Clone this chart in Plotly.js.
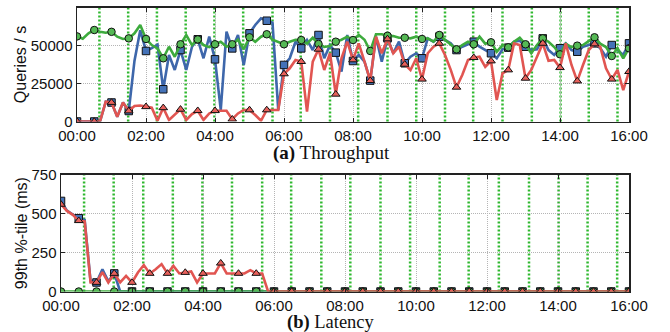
<!DOCTYPE html>
<html><head><meta charset="utf-8">
<script src="https://cdn.plot.ly/plotly-3.0.1.min.js"></script>
<style>html,body{margin:0;padding:0;background:#fff}#chart{width:670px;height:332px}</style>
</head><body><div id="chart"></div>
<script>
// sample times in minutes after 00:00 (every 10 minutes)
const minutes = [0,10,20,30,40,50,60,70,80,90,100,110,120,130,140,150,160,170,180,190,200,210,220,230,240,250,260,270,280,290,300,310,320,330,340,350,360,370,380,390,400,410,420,430,440,450,460,470,480,490,500,510,520,530,540,550,560,570,580,590,600,610,620,630,640,650,660,670,680,690,700,710,720,730,740,750,760,770,780,790,800,810,820,830,840,850,860,870,880,890,900,910,920,930,940,950,960];
const xTickVals = [0,120,240,360,480,600,720,840,960];
const xTickLabels = ["00:00","02:00","04:00","06:00","08:00","10:00","12:00","14:00","16:00"];
const qpsTickVals = [0,25000,50000,75000];
const qpsTickLabels = ["0","25000","50000","75000"];
const latTickVals = [0,250,500,750];
const latTickLabels = ["0","250","500","750"];
// event times (minutes) drawn as green dotted verticals
const eventMinutes = [39,89,139,189,239,289,340,389,440,489,540,590,640,689,740,791,841,890,940];

// Throughput (queries / s)
const qpsGreen = [56000,54500,58000,60200,59100,58400,59000,55800,54300,54700,58000,63500,54300,50300,48100,41600,49200,42600,50800,56900,50300,54000,50300,48900,50800,52500,49200,50800,53800,47500,55400,52500,55800,57400,53800,52500,50800,52500,53800,53600,51200,55100,51000,49000,49600,52500,53800,55800,53600,57000,53800,46400,57400,57400,56400,56200,55100,55100,54700,55800,54300,54700,52500,56900,53800,51200,47500,50300,52500,50800,55800,51200,52100,45900,50300,48800,52500,55100,50800,44900,50300,54700,52500,49000,44200,51200,49000,49900,50300,52900,55400,51200,49000,43100,48300,41600,48200];
const qpsBlue = [0,0,0,0,0,13000,12500,3200,12500,6900,40000,60000,46400,48300,50600,21200,43800,33900,47000,33900,49200,54100,41600,55800,40900,7600,59100,48100,56900,37200,58000,63500,67900,66300,65000,7500,37200,41600,52500,48100,53600,47000,56900,41600,50300,45300,32800,56900,39800,43800,39400,26900,55800,39400,54700,44900,52500,38300,42600,44900,41600,54700,52500,55800,53600,51400,47000,49200,50800,52500,49200,47000,44900,41600,47500,48600,52500,53200,49200,47000,47500,54700,47000,43800,48200,51400,47000,45900,49200,50300,51400,48200,42600,50300,47000,43800,51400];
const qpsRed = [0,0,0,0,0,13000,12500,3200,12500,6900,10200,10500,9700,9100,500,9000,1000,4300,8000,1000,4900,7100,1000,5300,7100,7100,7100,1500,5300,7600,7600,4300,500,7600,7600,7600,31300,35000,40500,39400,6500,39400,47500,33900,44900,17900,41600,52500,40500,51400,39400,26900,55800,44900,54300,44900,49200,37600,33900,41600,27800,44900,49200,51400,43800,34000,22500,30600,40500,42000,42600,36000,39800,14100,31700,33900,51400,50300,28400,33900,42600,51400,40000,40500,35400,51400,37200,26600,37200,47000,51000,49200,35000,27800,33900,20700,32800];

// Latency (99th percentile, ms)
const latGreen = [0,0,0,0,0,0,0,0,0,0,0,0,0,0,0,0,0,0,0,0,0,0,0,0,0,0,0,0,0,0,0,0,0,0,0,0,0,0,0,0,0,0,0,0,0,0,0,0,0,0,0,0,0,0,0,0,0,0,0,0,0,0,0,0,0,0,0,0,0,0,0,0,0,0,0,0,0,0,0,0,0,0,0,0,0,0,0,0,0,0,0,0,0,0,0,0,0];
const latBlue = [582,520,495,471,460,65,58,143,65,116,0,0,0,0,0,0,0,0,0,0,0,0,0,0,0,0,0,0,0,0,0,0,0,0,0,0,0,0,0,0,0,0,0,0,0,0,0,0,0,0,0,0,0,0,0,0,0,0,0,0,0,0,0,0,0,0,0,0,0,0,0,0,0,0,0,0,0,0,0,0,0,0,0,0,0,0,0,0,0,0,0,0,0,0,0,0,0];
const latRed = [560,518,493,455,450,58,58,125,58,116,58,100,58,122,170,116,143,176,116,165,116,122,129,58,116,116,116,182,116,116,116,116,137,116,116,0,0,0,0,0,0,0,0,0,0,0,0,0,0,0,0,0,0,0,0,0,0,0,0,0,0,0,0,0,0,0,0,0,0,0,0,0,0,0,0,0,0,0,0,0,0,0,0,0,0,0,0,0,0,0,0,0,0,0,0,0,0];

const C = {
  green:'#3dab3d', greenFill:'#55b955',
  blue:'#3e67ab', blueFill:'#4472b8',
  red:'#e15551', redFill:'#e8605b',
  event:'#2fb82f', grid:'#b5b5b5', axis:'#222'
};

function series(xa, ya, ys, color, fill, symbol) {
  const mx = [], my = [];
  minutes.forEach((m, i) => { if (m % 30 === 0) { mx.push(m); my.push(ys[i]); } });
  return [
    {x: minutes, y: ys, xaxis: xa, yaxis: ya, mode: 'lines', type: 'scatter',
     line: {color: color, width: 2.6}, hoverinfo: 'skip'},
    {x: mx, y: my, xaxis: xa, yaxis: ya, mode: 'markers', type: 'scatter',
     marker: {symbol: symbol, size: 7.5, color: fill, line: {color: '#111', width: 1}}, hoverinfo: 'skip'}
  ];
}

const traces = [].concat(
  series('x','y', qpsBlue, C.blue, C.blueFill, 'square'),
  series('x','y', qpsGreen, C.green, C.greenFill, 'circle'),
  series('x','y', qpsRed, C.red, C.redFill, 'triangle-up'),
  series('x2','y2', latBlue, C.blue, C.blueFill, 'square'),
  series('x2','y2', latGreen, C.green, C.greenFill, 'circle'),
  series('x2','y2', latRed, C.red, C.redFill, 'triangle-up')
);

const tickFont = {family: 'Liberation Sans, Arial, sans-serif', size: 15, color: '#111'};
function xAxis(domain, anchor) {
  return {domain: domain, anchor: anchor, range: [0, 960], tickmode: 'array',
    tickvals: xTickVals, ticktext: xTickLabels, showgrid: true, gridcolor: C.grid,
    griddash: '1px,1px', gridwidth: 1, zeroline: false, showline: true, mirror: 'ticks',
    linecolor: C.axis, linewidth: 1.5, ticks: 'inside', ticklen: 4, tickcolor: C.axis,
    tickfont: tickFont, automargin: false};
}
function yAxis(domain, anchor, range, vals, labels, title) {
  return {domain: domain, anchor: anchor, range: range, tickmode: 'array',
    tickvals: vals, ticktext: labels, showgrid: true, gridcolor: C.grid,
    griddash: '1px,1px', gridwidth: 1, zeroline: false, showline: true, mirror: 'ticks',
    linecolor: C.axis, linewidth: 1.5, ticks: 'inside', ticklen: 4, tickcolor: C.axis,
    tickfont: tickFont, automargin: false,
    title: {text: title, font: {family: 'Liberation Sans, Arial, sans-serif', size: 16, color: '#111'}, standoff: 0}};
}

const shapes = [];
eventMinutes.forEach(m => {
  ['y','y2'].forEach((ya, k) => {
    shapes.push({type: 'line', xref: k === 0 ? 'x' : 'x2', yref: ya + ' domain', x0: m, x1: m, y0: 0, y1: 1,
      layer: 'below', line: {color: C.event, width: 2.5, dash: '2px,2px'}});
  });
});

const layout = {
  width: 670, height: 332, margin: {l: 0, r: 0, t: 0, b: 0},
  paper_bgcolor: '#fff', plot_bgcolor: '#fff', showlegend: false,
  xaxis: xAxis([77/670, 629/670], 'y'),
  yaxis: yAxis([1-121.5/332, 1-7.5/332], 'x', [0, 75000], qpsTickVals, qpsTickLabels, 'Queries / s'),
  xaxis2: xAxis([61/670, 629/670], 'y2'),
  yaxis2: yAxis([1-291.5/332, 1-174.8/332], 'x2', [0, 750], latTickVals, latTickLabels, '99th %-tile (ms)'),
  shapes: shapes,
  annotations: [
    {text: '<b>(a)</b> Throughput', xref: 'paper', yref: 'paper', x: 331/670, y: 1-152.6/332,
     xanchor: 'center', yanchor: 'middle', showarrow: false, borderpad: 0,
     font: {family: 'Liberation Serif, DejaVu Serif, serif', size: 19, color: '#111'}},
    {text: '<b>(b)</b> Latency', xref: 'paper', yref: 'paper', x: 331/670, y: 1-322.6/332,
     xanchor: 'center', yanchor: 'middle', showarrow: false, borderpad: 0,
     font: {family: 'Liberation Serif, DejaVu Serif, serif', size: 18.5, color: '#111'}}
  ]
};

Plotly.newPlot('chart', traces, layout, {staticPlot: true, displayModeBar: false});
</script>
</body></html>
